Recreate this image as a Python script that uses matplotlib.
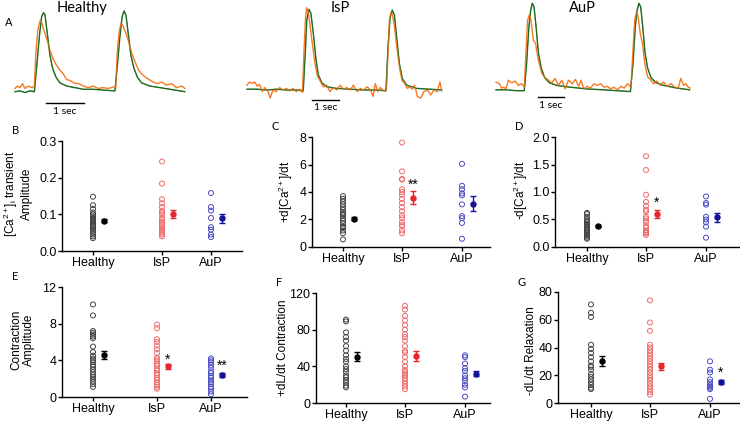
import matplotlib.pyplot as plt

W, H = 740, 421

plt.rcParams['font.family'] = ['Liberation Sans', 'DejaVu Sans']
plt.rcParams['mathtext.fontset'] = 'custom'
plt.rcParams['mathtext.rm'] = 'Liberation Sans'
plt.rcParams['mathtext.it'] = 'Liberation Sans:italic'

groups = ['Healthy', 'IsP', 'AuP']

# ---- panel A traces (time in s, normalised signal) ----
healthy_t_ca = [0.00, 0.13, 0.26, 0.39, 0.51, 0.57, 0.64, 0.70, 0.75, 0.79, 0.85, 0.92, 0.99, 1.08, 1.18,
                1.36, 1.58, 1.80, 2.06, 2.32, 2.63, 2.69, 2.76, 2.82, 2.87, 2.92, 2.98, 3.05, 3.13, 3.22,
                3.33, 3.55, 3.82, 4.08, 4.47]
healthy_v_ca = [0.00, 0.01, -0.01, 0.01, 0.00, 0.31, 0.68, 0.93, 0.98, 0.95, 0.72, 0.45, 0.29, 0.18, 0.11,
                0.07, 0.05, 0.03, 0.03, 0.02, 0.01, 0.31, 0.68, 0.93, 1.00, 0.95, 0.72, 0.45, 0.29, 0.18,
                0.11, 0.07, 0.05, 0.03, 0.00]
healthy_t_len = [0.00, 0.06, 0.13, 0.20, 0.26, 0.35, 0.44, 0.51, 0.55, 0.60, 0.66, 0.70, 0.76, 0.83, 0.92,
                 1.00, 1.09, 1.18, 1.27, 1.36, 1.45, 1.54, 1.67, 1.80, 1.93, 2.06, 2.19, 2.32, 2.46, 2.59,
                 2.65, 2.69, 2.74, 2.79, 2.85, 2.92, 2.98, 3.07, 3.16, 3.25, 3.33, 3.46, 3.60, 3.73, 3.86,
                 3.99, 4.12, 4.25, 4.39, 4.47]
healthy_v_len = [0.04, 0.07, 0.05, 0.10, 0.04, 0.07, 0.05, 0.07, 0.48, 0.76, 0.88, 0.86, 0.76, 0.66, 0.52,
                 0.41, 0.33, 0.27, 0.22, 0.15, 0.14, 0.11, 0.10, 0.07, 0.05, 0.07, 0.04, 0.05, 0.04, 0.06,
                 0.05, 0.48, 0.74, 0.85, 0.81, 0.72, 0.64, 0.48, 0.37, 0.27, 0.22, 0.17, 0.13, 0.10, 0.12,
                 0.08, 0.10, 0.05, 0.07, 0.04]

isp_t_ca = [0.00, 0.35, 0.72, 1.09, 1.45, 1.82, 2.06, 2.14, 2.19, 2.27, 2.34, 2.43, 2.53, 2.61, 2.74, 2.92,
            3.29, 3.77, 4.26, 4.75, 5.09, 5.16, 5.24, 5.32, 5.40, 5.48, 5.58, 5.69, 5.85, 6.21, 6.70, 7.13]
isp_v_ca = [0.01, 0.01, 0.00, 0.01, 0.00, 0.00, -0.01, 0.50, 0.87, 1.00, 0.95, 0.70, 0.37, 0.19, 0.09, 0.04,
            0.02, 0.01, 0.00, 0.00, -0.01, 0.50, 0.89, 0.99, 0.93, 0.66, 0.33, 0.14, 0.06, 0.02, 0.01, 0.00]
isp_t_len = [0.00, 0.10, 0.20, 0.28, 0.37, 0.46, 0.56, 0.65, 0.77, 0.85, 0.95, 1.07, 1.19, 1.32, 1.44, 1.56,
             1.68, 1.81, 1.93, 2.03, 2.09, 2.14, 2.18, 2.24, 2.30, 2.39, 2.49, 2.58, 2.67, 2.79, 2.92, 3.04,
             3.16, 3.29, 3.41, 3.53, 3.66, 3.78, 3.90, 4.03, 4.15, 4.27, 4.40, 4.52, 4.62, 4.70, 4.79, 4.89,
             5.01, 5.11, 5.17, 5.22, 5.27, 5.33, 5.40, 5.50, 5.60, 5.68, 5.78, 5.87, 5.97, 6.05, 6.14, 6.24,
             6.36, 6.48, 6.61, 6.73, 6.85, 6.97, 7.07, 7.13]
isp_v_len = [0.06, 0.10, 0.08, 0.10, 0.05, 0.07, -0.02, 0.03, -0.02, -0.10, 0.00, -0.02, 0.03, 0.00, 0.02,
             -0.01, 0.02, -0.02, 0.01, -0.03, 0.50, 0.87, 1.02, 0.97, 0.83, 0.58, 0.33, 0.17, 0.12, 0.04,
             0.06, -0.02, 0.03, 0.00, 0.06, 0.01, 0.03, 0.00, 0.06, -0.02, 0.02, 0.00, 0.04, 0.00, -0.08,
             0.08, -0.02, 0.03, -0.01, 0.01, 0.50, 0.87, 0.96, 0.93, 0.79, 0.50, 0.25, 0.12, 0.08, 0.02,
             0.04, 0.01, 0.06, -0.08, -0.10, -0.02, 0.00, -0.06, 0.00, -0.02, 0.10, -0.01]

aup_t_ca = [0.00, 0.41, 0.80, 1.10, 1.19, 1.28, 1.35, 1.41, 1.48, 1.56, 1.65, 1.76, 1.89, 2.08, 2.37, 2.89,
            3.54, 4.19, 4.71, 5.23, 5.33, 5.42, 5.49, 5.56, 5.63, 5.71, 5.80, 5.90, 6.03, 6.23, 6.53, 7.04, 7.53]
aup_v_ca = [0.01, 0.01, 0.00, 0.00, 0.31, 0.73, 0.92, 1.00, 0.96, 0.73, 0.43, 0.26, 0.15, 0.09, 0.06, 0.04,
            0.02, 0.01, 0.00, -0.01, 0.31, 0.73, 0.92, 1.00, 0.96, 0.73, 0.43, 0.26, 0.15, 0.09, 0.06, 0.03, 0.01]
aup_t_len = [0.00, 0.13, 0.22, 0.31, 0.39, 0.48, 0.61, 0.74, 0.87, 1.00, 1.10, 1.17, 1.23, 1.30, 1.36, 1.45,
             1.54, 1.65, 1.78, 1.91, 2.04, 2.17, 2.30, 2.43, 2.56, 2.69, 2.82, 2.96, 3.09, 3.22, 3.31, 3.42,
             3.55, 3.68, 3.81, 3.94, 4.07, 4.20, 4.33, 4.46, 4.59, 4.73, 4.86, 4.99, 5.12, 5.25, 5.33, 5.40,
             5.47, 5.53, 5.61, 5.70, 5.79, 5.90, 6.00, 6.13, 6.26, 6.39, 6.52, 6.65, 6.81, 6.96, 7.09, 7.19,
             7.30, 7.39, 7.48, 7.56]
aup_v_len = [0.10, 0.08, 0.03, 0.04, 0.02, 0.12, 0.09, 0.11, 0.06, 0.08, 0.04, 0.47, 0.81, 0.87, 0.81, 0.58,
             0.54, 0.35, 0.20, 0.15, 0.12, 0.09, 0.14, 0.06, 0.12, 0.02, 0.12, 0.08, 0.13, 0.05, 0.12, 0.02,
             0.05, 0.03, 0.08, 0.06, 0.08, 0.04, 0.05, 0.02, 0.04, 0.01, 0.05, 0.03, 0.08, 0.04, 0.47, 0.81,
             0.90, 0.85, 0.66, 0.54, 0.31, 0.16, 0.13, 0.08, 0.11, 0.06, 0.10, 0.05, 0.08, 0.04, 0.03, 0.14,
             0.06, 0.08, 0.04, 0.03]

# ---- panels B-G (individual cells, mean, sem) ----
ca_amp_healthy = [0.148, 0.125, 0.115, 0.105, 0.100, 0.095, 0.090, 0.088, 0.085, 0.082, 0.080, 0.075, 0.070,
                  0.068, 0.065, 0.060, 0.055, 0.050, 0.045, 0.040, 0.035]
ca_amp_isp = [0.244, 0.184, 0.141, 0.130, 0.120, 0.110, 0.105, 0.100, 0.090, 0.085, 0.080, 0.075, 0.070,
              0.065, 0.060, 0.055, 0.050, 0.045, 0.040]
ca_amp_aup = [0.158, 0.120, 0.110, 0.090, 0.065, 0.058, 0.045, 0.038]
ca_amp_mean = [0.082, 0.101, 0.089]
ca_amp_sem = [0.004, 0.011, 0.012]

ca_up_healthy = [3.7, 3.5, 3.3, 3.1, 2.9, 2.7, 2.5, 2.4, 2.3, 2.1, 1.9, 1.7, 1.5, 1.45, 1.4, 1.2, 1.0, 0.55]
ca_up_isp = [7.6, 5.5, 4.95, 4.9, 4.2, 4.0, 3.8, 3.5, 3.2, 2.9, 2.6, 2.3, 2.1, 1.8, 1.6, 1.5, 1.2, 1.0]
ca_up_aup = [6.05, 4.45, 4.2, 3.9, 3.75, 3.1, 2.25, 2.1, 1.75, 0.6]
ca_up_mean = [2.05, 3.6, 3.15]
ca_up_sem = [0.12, 0.45, 0.55]

ca_down_healthy = [0.62, 0.60, 0.55, 0.50, 0.47, 0.45, 0.42, 0.40, 0.37, 0.35, 0.32, 0.30, 0.27, 0.25, 0.22,
                   0.20, 0.17, 0.15]
ca_down_isp = [1.65, 1.40, 0.95, 0.82, 0.75, 0.68, 0.65, 0.55, 0.52, 0.48, 0.45, 0.38, 0.35, 0.30, 0.27,
               0.25, 0.22]
ca_down_aup = [0.92, 0.80, 0.77, 0.55, 0.50, 0.45, 0.37, 0.17]
ca_down_mean = [0.385, 0.60, 0.54]
ca_down_sem = [0.02, 0.08, 0.08]

contr_healthy = [10.1, 8.9, 7.2, 7.0, 6.8, 6.6, 6.4, 5.5, 4.9, 4.5, 4.2, 4.0, 3.8, 3.5, 3.3, 3.0, 2.7, 2.4,
                 2.2, 2.0, 1.7, 1.4, 1.1]
contr_isp = [7.9, 7.5, 6.3, 6.0, 5.6, 5.2, 4.8, 4.3, 4.1, 3.9, 3.6, 3.4, 3.1, 2.9, 2.6, 2.4, 2.1, 1.9, 1.6,
             1.3, 1.1, 0.9]
contr_aup = [4.2, 4.0, 3.8, 3.5, 3.2, 2.8, 2.6, 2.3, 2.1, 1.8, 1.6, 1.4, 1.1, 0.9, 0.6, 0.3]
contr_mean = [4.6, 3.35, 2.4]
contr_sem = [0.45, 0.25, 0.2]

dl_up_healthy = [91, 89, 77, 72, 68, 62, 57, 52, 48, 45, 40, 37, 34, 30, 28, 25, 22, 19, 17]
dl_up_isp = [106, 102, 95, 90, 85, 80, 75, 72, 68, 62, 57, 55, 50, 45, 40, 36, 34, 32, 30, 27, 24, 21, 18, 15]
dl_up_aup = [52, 50, 43, 38, 35, 30, 27, 24, 20, 17, 7]
dl_up_mean = [50.5, 51.5, 32]
dl_up_sem = [5, 5.5, 3]

dl_down_healthy = [71, 65, 62, 42, 39, 36, 33, 30, 27, 26, 24, 21, 19, 17, 15, 13, 11, 10]
dl_down_isp = [74, 58, 52, 42, 40, 38, 36, 34, 32, 30, 28, 26, 24, 22, 20, 18, 16, 14, 12, 10, 8, 6]
dl_down_aup = [30, 24, 22, 17, 15, 13, 12, 11, 10, 3]
dl_down_mean = [30.3, 26.5, 15]
dl_down_sem = [3.8, 2.5, 1.5]

fig = plt.figure(figsize=(W / 100, H / 100), dpi=100)


def px_axes(left, top, right, bottom):
    return fig.add_axes([left / W, 1 - bottom / H, (right - left) / W, (bottom - top) / H])


def px_text(x, y, s, **kw):
    fig.text(x / W, 1 - y / H, s, **kw)


# ---- A: traces ----
trace_font = 'Lato'
traces = [
    # title, (left, right, px/s, y of 0, y of 1), ca, len, scalebar y px
    ('Healthy', (15, 185, 38.0, 91.7, 11.0), (healthy_t_ca, healthy_v_ca), (healthy_t_len, healthy_v_len), 103),
    ('IsP', (247, 442, 27.3, 90.0, 9.3), (isp_t_ca, isp_v_ca), (isp_t_len, isp_v_len), 100),
    ('AuP', (496, 689, 25.7, 90.7, 3.3), (aup_t_ca, aup_v_ca), (aup_t_len, aup_v_len), 97),
]
bar_start = [46, 312, 538]
title_x = [82, 340, 582]
for i, (title, (l, r, pps, y0, y1), ca, ln, bar_y) in enumerate(traces):
    ax = px_axes(l, y1, r, y0)
    ax.set_xlim(0, (r - l) / pps)
    ax.set_ylim(0, 1)
    ax.axis('off')
    ax.plot(ca[0], ca[1], color='#1c6b1e', lw=1.0, clip_on=False)
    ax.plot(ln[0], ln[1], color='#f57a23', lw=1.0, clip_on=False)
    ax.plot(ca[0], ca[1], color='#1c6b1e', lw=0.6, alpha=0.5, clip_on=False)
    t0 = (bar_start[i] - l) / pps
    vb = (y0 - bar_y) / (y0 - y1)
    ax.plot([t0, t0 + 1], [vb, vb], color='black', lw=1.0, clip_on=False)
    px_text(bar_start[i] + pps / 2, bar_y + 8, '1 sec', ha='center', va='center',
            fontsize=7.5, family=trace_font)
    px_text(title_x[i], 8, title, ha='center', va='center', fontsize=10.5, family=trace_font)

px_text(5, 22, 'A', ha='left', va='center', fontsize=8, family=trace_font)

# ---- B-G: scatter panels ----
open_colors = ['#444444', '#ef6b6b', '#4b4bc6']
mean_colors = ['black', '#e5262b', '#12129a']

panels = [
    ('B', (62, 141, 242, 251), (ca_amp_healthy, ca_amp_isp, ca_amp_aup), ca_amp_mean, ca_amp_sem,
     [0.0, 0.1, 0.2, 0.3], '{:.1f}', [31, 100, 149], '[Ca$^{2+}$]$_\\mathregular{i}$ transient\nAmplitude', (17, 194)),
    ('C', (312, 137, 490, 247), (ca_up_healthy, ca_up_isp, ca_up_aup), ca_up_mean, ca_up_sem,
     [0, 2, 4, 6, 8], '{:.0f}', [31, 90, 150], '+d[Ca$^{2+}$]/dt', (286, 192)),
    ('D', (555, 137, 739, 247), (ca_down_healthy, ca_down_isp, ca_down_aup), ca_down_mean, ca_down_sem,
     [0.0, 0.5, 1.0, 1.5, 2.0], '{:.1f}', [32, 91, 151], '-d[Ca$^{2+}$]/dt', (521, 190)),
    ('E', (62, 287, 247, 397), (contr_healthy, contr_isp, contr_aup), contr_mean, contr_sem,
     [0, 4, 8, 12], '{:.0f}', [31, 95, 149], 'Contraction\nAmplitude', (23, 340)),
    ('F', (316, 293, 490, 403), (dl_up_healthy, dl_up_isp, dl_up_aup), dl_up_mean, dl_up_sem,
     [0, 40, 80, 120], '{:.0f}', [30, 89, 149], '+dL/dt Contraction', (283, 348)),
    ('G', (558, 292, 739, 403), (dl_down_healthy, dl_down_isp, dl_down_aup), dl_down_mean, dl_down_sem,
     [0, 20, 40, 60, 80], '{:.0f}', [33, 92, 152], '-dL/dt Relaxation', (531, 351)),
]

stars = {'C': [(1, 4.55, '**')], 'D': [(1, 0.80, '*')], 'E': [(1, 4.1, '*'), (2, 3.45, '**')],
         'G': [(2, 22, '*')]}

for letter, (l, t, r, b), data, means, sems, yticks, fmt, xs, ylabel, lab_xy in panels:
    ax = px_axes(l, t, r, b)
    ax.set_xlim(0, r - l)
    ax.set_ylim(yticks[0], yticks[-1])
    for k in range(3):
        ax.scatter([xs[k]] * len(data[k]), data[k], s=13, facecolors='none',
                   edgecolors=open_colors[k], linewidths=0.7, clip_on=False, zorder=3)
        ax.errorbar(xs[k] + 11, means[k], yerr=sems[k], fmt='o', ms=3.6, color=mean_colors[k],
                    ecolor=mean_colors[k], elinewidth=1.0, capsize=2.5, capthick=1.0, zorder=4)
    for k, v, s in stars.get(letter, []):
        ax.text(xs[k] + 11, v, s, ha='center', va='center', fontsize=10)
    ax.spines['top'].set_visible(False)
    ax.spines['right'].set_visible(False)
    for sp in ('left', 'bottom'):
        ax.spines[sp].set_linewidth(1.0)
    ax.set_yticks(yticks)
    ax.set_yticklabels([fmt.format(v) for v in yticks])
    ax.set_xticks(xs)
    ax.set_xticklabels(groups)
    ax.tick_params(axis='both', direction='out', length=3, width=1.0, labelsize=9, pad=1)
    px_text(lab_xy[0], lab_xy[1], ylabel, rotation=90, ha='center', va='center',
            fontsize=8.5, multialignment='center', linespacing=1.1)
    px_text(l - 50 if letter in 'BE' else l - 40, t - 10, letter, ha='left', va='center',
            fontsize=8, family=trace_font)

fig.savefig('out.png', dpi=100)
